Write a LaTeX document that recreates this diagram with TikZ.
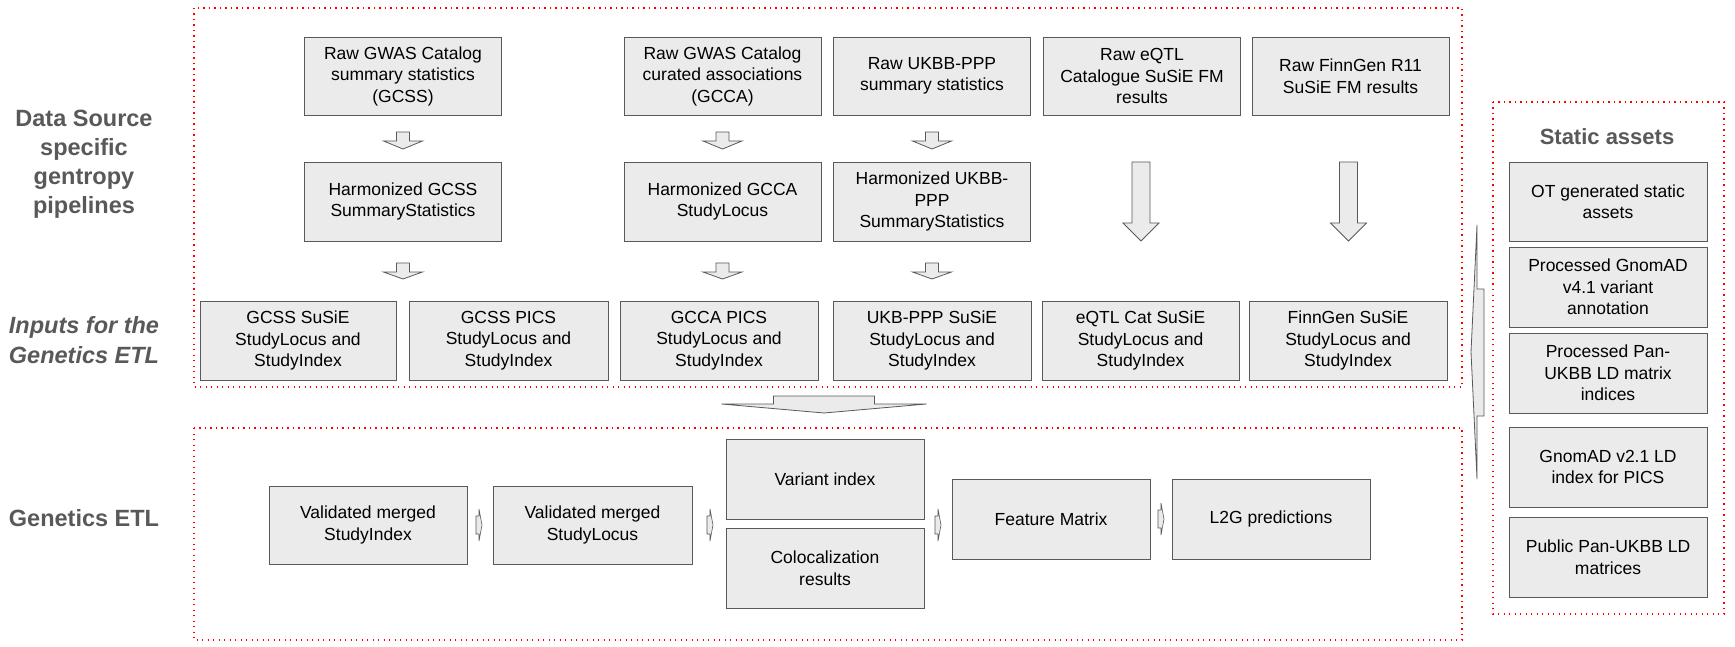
\documentclass[tikz,border=0pt]{standalone}
\usepackage{fontspec}
\setmainfont{Liberation Sans}
\definecolor{boxfill}{HTML}{EBEBEB}
\definecolor{boxline}{HTML}{595959}
\definecolor{labelgray}{HTML}{595959}
\definecolor{dotred}{HTML}{FF0000}
\tikzset{
  box/.style={draw=boxline, fill=boxfill, line width=0.9pt, align=center, inner sep=0pt,
    font=\fontsize{17.5}{21.5}\selectfont, text=black, minimum width=197pt, minimum height=79pt},
  grp/.style={draw=dotred, line width=1.2pt, dash pattern=on 1.3pt off 4.2pt},
  lbl/.style={text=labelgray, font=\fontsize{23.5}{29}\selectfont\bfseries, align=center},
  blk/.style={draw=boxline, fill=boxfill, line width=0.8pt, line join=miter},
}
% down block arrow: cx, ytop, ybase, ytip, half shaft, half head
\newcommand{\downblk}[6]{%
  \draw[blk] (#1-#5,#2) -- (#1+#5,#2) -- (#1+#5,#3) -- (#1+#6,#3) -- (#1,#4)
    -- (#1-#6,#3) -- (#1-#5,#3) -- cycle;}
% small right block arrow: cx, cy
\newcommand{\rblk}[2]{%
  \draw[blk, line width=0.6pt] (#1-3,#2-9) -- (#1,#2-9) -- (#1,#2-16) -- (#1+3,#2) -- (#1,#2+16)
    -- (#1,#2+9) -- (#1-3,#2+9) -- cycle;}
\begin{document}
\begin{tikzpicture}[x=1pt,y=-1pt]
\useasboundingbox (0,0) rectangle (1735,647);
\fill[white] (0,0) rectangle (1735,647);

% group frames
\draw[grp] (194,8) rectangle (1462,387);
\draw[grp] (194,428) rectangle (1462,640);
\draw[grp] (1493,102) rectangle (1724,614);

% left labels
\node[lbl] (lab1) at (84,164) {Data Source\\specific\\gentropy\\pipelines};
\node[lbl, font=\fontsize{23.5}{29.5}\selectfont\bfseries\itshape] (lab2) at (84,340) {Inputs for the\\Genetics ETL};
\node[lbl] (lab3) at (84,518) {Genetics ETL};
\node[lbl, font=\fontsize{22}{27}\selectfont\bfseries] (lab4) at (1607,137) {Static assets};

% row 1
\node[box, minimum height=78pt] (r1a) at (403,76) {Raw GWAS Catalog\\summary statistics\\(GCSS)};
\node[box, minimum height=78pt] (r1b) at (722.5,76) {Raw GWAS Catalog\\curated associations\\(GCCA)};
\node[box, minimum height=78pt] (r1c) at (932,76) {Raw UKBB-PPP\\summary statistics};
\node[box, minimum height=78pt] (r1d) at (1142,76) {Raw eQTL\\Catalogue SuSiE FM\\results};
\node[box, minimum height=78pt] (r1e) at (1350.5,76) {Raw FinnGen R11\\SuSiE FM results};

% row 2
\node[box] (r2a) at (403,201.5) {Harmonized GCSS\\SummaryStatistics};
\node[box] (r2b) at (722.5,201.5) {Harmonized GCCA\\StudyLocus};
\node[box] (r2c) at (932,201.5) {Harmonized UKBB-\\PPP\\SummaryStatistics};

% row 3
\node[box, minimum width=196pt] (r3a) at (298,340.5) {GCSS SuSiE\\StudyLocus and\\StudyIndex};
\node[box, minimum width=199pt] (r3b) at (508.5,340.5) {GCSS PICS\\StudyLocus and\\StudyIndex};
\node[box, minimum width=198pt] (r3c) at (719,340.5) {GCCA PICS\\StudyLocus and\\StudyIndex};
\node[box, minimum width=198pt] (r3d) at (932,340.5) {UKB-PPP SuSiE\\StudyLocus and\\StudyIndex};
\node[box] (r3e) at (1140.5,340.5) {eQTL Cat SuSiE\\StudyLocus and\\StudyIndex};
\node[box, minimum width=198pt] (r3f) at (1348,340.5) {FinnGen SuSiE\\StudyLocus and\\StudyIndex};

% arrows top section
\downblk{403}{132}{141}{149}{6.5}{19.5}
\downblk{722.5}{132}{141}{149}{6.5}{19.5}
\downblk{932}{132}{141}{149}{6.5}{19.5}
\downblk{403}{263}{272}{279}{6.5}{19.5}
\downblk{722.5}{263}{272}{279}{6.5}{19.5}
\downblk{932}{263}{272}{279}{6.5}{19.5}
\downblk{1141}{162}{223}{241}{9}{18}
\downblk{1348.5}{162}{223}{241}{9}{18}

% big arrow between groups
\downblk{824}{396}{404}{413}{50.5}{102.5}

% static assets
\node[box, minimum width=198pt] (s1) at (1608,201.5) {OT generated static\\assets};
\node[box, minimum width=198pt, minimum height=80pt] (s2) at (1608,287) {Processed GnomAD\\v4.1 variant\\annotation};
\node[box, minimum width=198pt, minimum height=80pt] (s3) at (1608,373) {Processed Pan-\\UKBB LD matrix\\indices};
\node[box, minimum width=198pt, minimum height=80pt] (s4) at (1608,467) {GnomAD v2.1 LD\\index for PICS};
\node[box, minimum width=198pt, minimum height=80pt] (s5) at (1608,557) {Public Pan-UKBB LD\\matrices};

% left-pointing arrow from static assets
\draw[blk] (1484,289) -- (1484,416) -- (1477,416) -- (1477,479) -- (1471,352)
  -- (1477,225) -- (1477,289) -- cycle;

% genetics ETL
\node[box, minimum width=198pt, minimum height=78pt] (vsi) at (368,525) {Validated merged\\StudyIndex};
\node[box, minimum width=199pt, minimum height=78pt] (vsl) at (592.5,525) {Validated merged\\StudyLocus};
\node[box, minimum width=198pt, minimum height=80pt] (vi) at (825,479) {Variant index};
\node[box, minimum width=198pt, minimum height=80pt] (col) at (825,568) {Colocalization\\results};
\node[box, minimum width=198pt, minimum height=80pt] (fm) at (1051,519) {Feature Matrix};
\node[box, minimum width=198pt, minimum height=80pt] (l2g) at (1271,519) {L2G predictions};

\rblk{479}{525}
\rblk{710}{525}
\rblk{938}{525}
\rblk{1161}{519}
\end{tikzpicture}
\end{document}
